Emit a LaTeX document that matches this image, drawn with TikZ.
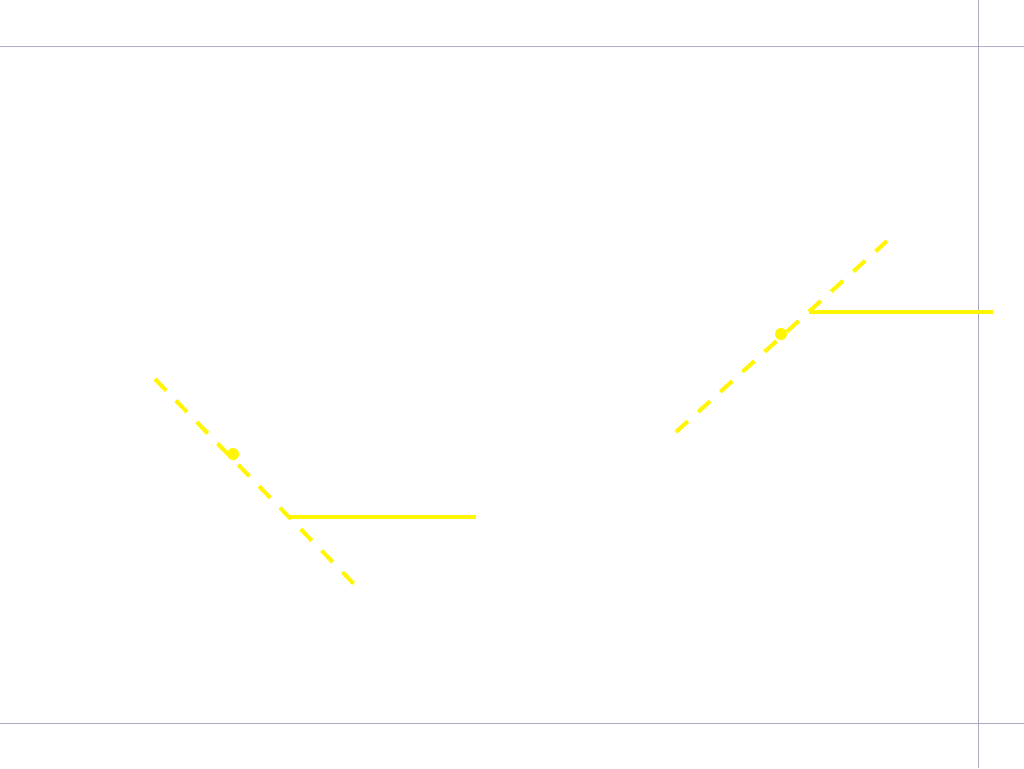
\documentclass[tikz,border=0pt]{standalone}
\definecolor{guide}{RGB}{176,176,214}
\definecolor{guidegrey}{RGB}{170,170,190}
\definecolor{ray}{RGB}{255,246,0}
\tikzset{
  guideline/.style={draw=guide, line width=1pt},
  rayline/.style={draw=ray, line width=4pt},
  raydash/.style={draw=ray, line width=4pt, dash pattern=on 16pt off 13.9pt},
  raydot/.style={circle, fill=ray, inner sep=0pt, minimum size=12pt}
}
\begin{document}
\begin{tikzpicture}[x=1pt,y=-1pt]
\path[use as bounding box, fill=white] (0,0) rectangle (1024,768);
% guides
\coordinate (gtl) at (0,46.5);
\coordinate (gtr) at (1024,46.5);
\coordinate (gbl) at (0,723.5);
\coordinate (gbr) at (1024,723.5);
\coordinate (gvt) at (978.5,0);
\coordinate (gvb) at (978.5,768);
\draw[guideline] (gtl) -- (gtr);
\draw[guideline, draw=guidegrey] (gbl) -- (gbr);
\draw[guideline, draw=guidegrey] (gvt) -- (gvb);
% left figure
\coordinate (la) at (155,379);
\coordinate (lb) at (354,584);
\coordinate (lk) at (289,517);
\coordinate (le) at (476,517);
\draw[raydash] (la) -- (lb);
\draw[rayline] (lk) -- (le);
\node[raydot] (ld) at (233,454) {};
% right figure
\coordinate (ra) at (676,432);
\coordinate (rb) at (887,241);
\coordinate (rk) at (809,312);
\coordinate (re) at (993,312);
\draw[raydash] (ra) -- (rb);
\draw[rayline] (rk) -- (re);
\node[raydot] (rd) at (781,334) {};
\end{tikzpicture}
\end{document}
